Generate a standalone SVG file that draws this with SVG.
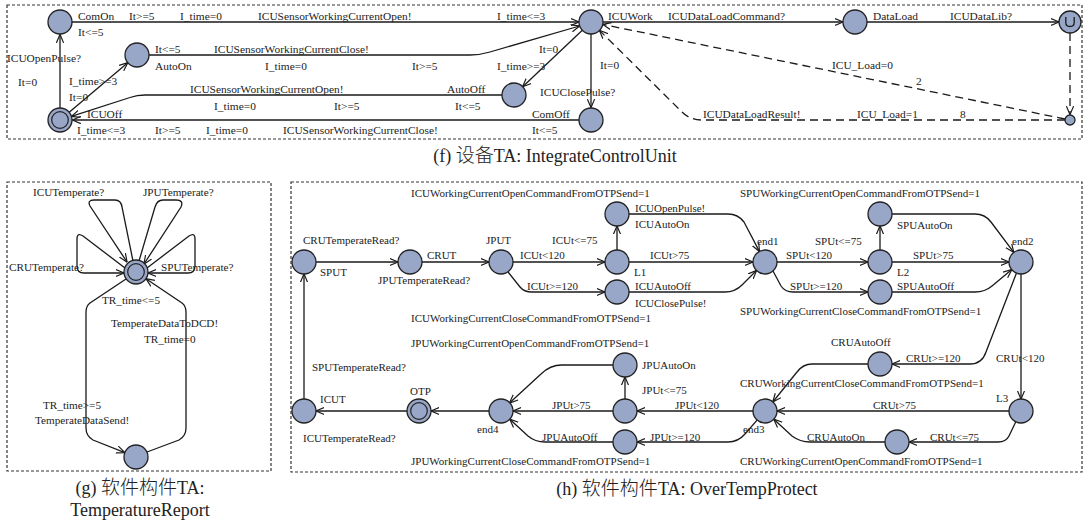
<svg xmlns="http://www.w3.org/2000/svg" width="1084" height="524" viewBox="0 0 1084 524">
  <defs>
    <style>
      .frame { fill: none; stroke: #333; stroke-width: 1.2; stroke-dasharray: 3 2; }
      .loc { fill: #98a6c8; stroke: #222; stroke-width: 1.3; }
      .inner { fill: none; stroke: #222; stroke-width: 1.2; }
      .e { fill: none; stroke: #1a1a1a; stroke-width: 1.3; marker-end: url(#arr); }
      .en { fill: none; stroke: #1a1a1a; stroke-width: 1.3; }
      .dash { stroke-dasharray: 8 5; }
      .sel { stroke: #666; stroke-width: 1.9; }
      text { font-family: "Liberation Serif", "Times New Roman", serif; fill: #222; }
      .lf { font-size: 11.4px; }
      .lh { font-size: 11px; }
      .lg { font-size: 11.2px; }
      .cap { font-size: 18px; text-anchor: middle; }
      .cjk { font-family: "Noto Sans CJK SC", sans-serif; font-size: 19px; font-weight: 300; }
    </style>
    <marker id="arr" markerUnits="userSpaceOnUse" viewBox="0 0 10 10" refX="9.3" refY="5" markerWidth="9" markerHeight="9" orient="auto">
      <path d="M0,1 L9.5,5 L0,9" fill="none" stroke="#1a1a1a" stroke-width="1.3" stroke-dasharray="none"/>
    </marker>
  </defs>

  <!-- panel frames -->
  <rect class="frame" x="7" y="5" width="1075" height="134"/>
  <rect class="frame" x="7" y="182" width="264" height="289"/>
  <rect class="frame" x="291" y="182" width="791" height="290"/>

  <!-- ===================== IntegrateControlUnit ===================== -->
  <g id="icu-edges">
    <path class="e" d="M72,22 L579,22"/>
    <path class="e" d="M60,108 L60,34.5"/>
    <path class="e" d="M69.2,112.3 L127.8,62.7"/>
    <path class="e" d="M149,55 L470,55 Q480,55 490,52 L579.5,26"/>
    <path class="e" d="M582.3,30.3 L522.7,86.7"/>
    <path class="e" d="M502,95 L145,95 Q137,95 130,97.5 L71.4,116.4"/>
    <path class="e" d="M579,120 L72.5,120"/>
    <path class="e sel" d="M591,34 L591,107.5"/>
    <path class="e" d="M603,22 L843,22"/>
    <path class="e" d="M867,22 L1059,22"/>
    <path class="e dash" d="M1070,33 L1070,114.5"/>
    <path class="e dash" d="M1065,119 L602.8,24.4"/>
    <path class="e dash" d="M1065,120 L702,120 Q690,120 682,112 L599.5,30.4"/>
  </g>
  <g id="icu-ComOn"><circle class="loc" cx="60" cy="22" r="12"/></g>
  <g id="icu-AutoOn"><circle class="loc" cx="137" cy="55" r="12"/></g>
  <g id="icu-ICUOff"><circle class="loc" cx="60" cy="120" r="12"/><circle class="inner" cx="60" cy="120" r="8.3"/></g>
  <g id="icu-ICUWork"><circle class="loc" cx="591" cy="22" r="12"/></g>
  <g id="icu-AutoOff"><circle class="loc" cx="514" cy="95" r="12"/></g>
  <g id="icu-ComOff"><circle class="loc" cx="591" cy="120" r="12"/></g>
  <g id="icu-DataLoad"><circle class="loc" cx="855" cy="22" r="12"/></g>
  <g id="icu-urgent"><circle class="loc" cx="1070" cy="22" r="11"/><path class="en" d="M1065.8,17 L1065.8,22.5 Q1065.8,26.5 1070,26.5 Q1074.2,26.5 1074.2,22.5 L1074.2,17" stroke-width="1.2"/></g>
  <g id="icu-branch"><circle class="loc" cx="1070" cy="120" r="5"/></g>
  <g id="icu-labels" class="lf">
    <text x="78" y="20">ComOn</text>
    <text x="129" y="20">It&gt;=5</text>
    <text x="180" y="20">I_time=0</text>
    <text x="258" y="20">ICUSensorWorkingCurrentOpen!</text>
    <text x="497" y="20">I_time&lt;=3</text>
    <text x="78" y="36">It&lt;=5</text>
    <text x="7" y="62">ICUOpenPulse?</text>
    <text x="18" y="86">It=0</text>
    <text x="69" y="85">I_time&gt;=3</text>
    <text x="69" y="101">It=0</text>
    <text x="155" y="53">It&lt;=5</text>
    <text x="155" y="70">AutoOn</text>
    <text x="214" y="53">ICUSensorWorkingCurrentClose!</text>
    <text x="265" y="70">I_time=0</text>
    <text x="412" y="70">It&gt;=5</text>
    <text x="539" y="53">It=0</text>
    <text x="497" y="70">I_time&gt;=3</text>
    <text x="190" y="93">ICUSensorWorkingCurrentOpen!</text>
    <text x="214" y="110">I_time=0</text>
    <text x="334" y="110">It&gt;=5</text>
    <text x="447" y="93">AutoOff</text>
    <text x="455" y="110">It&lt;=5</text>
    <text x="540" y="96">ICUClosePulse?</text>
    <text x="600" y="69">It=0</text>
    <text x="87" y="118">ICUOff</text>
    <text x="532" y="118">ComOff</text>
    <text x="77" y="134">I_time&lt;=3</text>
    <text x="155" y="134">It&gt;=5</text>
    <text x="206" y="134">I_time=0</text>
    <text x="283" y="134">ICUSensorWorkingCurrentClose!</text>
    <text x="532" y="134">It&lt;=5</text>
    <text x="608" y="20">ICUWork</text>
    <text x="668" y="20">ICUDataLoadCommand?</text>
    <text x="873" y="20">DataLoad</text>
    <text x="950" y="20">ICUDataLib?</text>
    <text x="832" y="69">ICU_Load=0</text>
    <text x="916" y="85">2</text>
    <text x="703" y="118">ICUDataLoadResult!</text>
    <text x="857" y="118">ICU_Load=1</text>
    <text x="960" y="118">8</text>
  </g>
  <text class="cap" x="555" y="162">(f) <tspan class="cjk">设备</tspan>TA: IntegrateControlUnit</text>

  <!-- ===================== TemperatureReport ===================== -->
  <g id="tr-edges">
    <path class="e" d="M133,261 L122,207 Q121,200 115,200 L94,200 Q87,200 90,206 L127,262"/>
    <path class="e" d="M139,261 L155,207 Q157,200 163,200 L176,200 Q184,200 181,207 L144,264"/>
    <path class="e" d="M125,268 L83,236 Q77,232 77,239 L77,266 Q77,273 84,273 L124,273"/>
    <path class="e" d="M147,268 L189,236 Q195,232 195,239 L195,266 Q195,273 188,273 L148,273"/>
    <path class="e" d="M126,279 L90,303 Q86,306 86,312 L86,428 Q86,436 93,440 L124.8,452.6"/>
    <path class="e" d="M147,452 L179,440 Q186,436 186,428 L186,312 Q186,306 182,303 L146,278.7"/>
  </g>
  <g id="tr-idle"><circle class="loc" cx="136" cy="272" r="12"/><circle class="inner" cx="136" cy="272" r="8.3"/></g>
  <g id="tr-send"><circle class="loc" cx="136" cy="457" r="12"/></g>
  <g id="tr-labels" class="lg">
    <text x="33" y="196">ICUTemperate?</text>
    <text x="143" y="196">JPUTemperate?</text>
    <text x="9" y="271">CRUTemperate?</text>
    <text x="161" y="271">SPUTemperate?</text>
    <text x="102" y="304">TR_time&lt;=5</text>
    <text x="111" y="327">TemperateDataToDCD!</text>
    <text x="144" y="343">TR_time=0</text>
    <text x="43" y="409">TR_time&gt;=5</text>
    <text x="35" y="424">TemperateDataSend!</text>
  </g>
  <text class="cap" x="140" y="494">(g) <tspan class="cjk">软件构件</tspan>TA:</text>
  <text class="cap" x="140" y="516">TemperatureReport</text>

  <!-- ===================== OverTempProtect ===================== -->
  <g id="otp-edges">
    <path class="e" d="M316,262 L398,262"/>
    <path class="e" d="M422,262 L489,262"/>
    <path class="e" d="M513,262 L605,262"/>
    <path class="e" d="M508,272 L520,287 Q524,292 532,292 L605,292"/>
    <path class="e" d="M617,250 L617,226"/>
    <path class="e" d="M629,214 L728,214 Q738,214 744,222 L759.4,251.4"/>
    <path class="e" d="M629,262 L753,262"/>
    <path class="e" d="M629,292 L725,292 Q735,292 742,285 L756.5,270.5"/>
    <path class="e" d="M777,262 L868,262"/>
    <path class="e" d="M773,271 L781,286 Q785,292 793,292 L868,292"/>
    <path class="e" d="M880,250 L880,226"/>
    <path class="e" d="M892,214 L975,214 Q985,214 991,222 L1013.8,252.4"/>
    <path class="e" d="M892,262 L1009,262"/>
    <path class="e" d="M892,292 L975,292 Q985,292 992,286 L1011.8,269.6"/>
    <path class="e" d="M1021,274 L1021,399"/>
    <path class="e" d="M1016.5,273 L986,352 Q982,364 970,364 L892,364"/>
    <path class="e" d="M868,364 L812,364 Q803,364 797,372 L772.8,402"/>
    <path class="e" d="M1009,411 L777,411"/>
    <path class="e" d="M1015.8,421.8 L1009,436 Q1006,442 998,442 L909,442"/>
    <path class="e" d="M885,442 L810,442 Q800,442 792,436 L773.8,419.2"/>
    <path class="e" d="M753,411 L637,411"/>
    <path class="e" d="M625,399 L625,377"/>
    <path class="e" d="M613,365 L562,365 Q550,365 541,374 L509.5,403"/>
    <path class="e" d="M613,411 L513,411"/>
    <path class="e" d="M757.1,420.1 L745,434 Q738,442 728,442 L637,442"/>
    <path class="e" d="M613,442 L545,442 Q535,442 528,436 L509.8,419.2"/>
    <path class="e" d="M489,411 L431,411"/>
    <path class="e" d="M407,411 L316,411"/>
    <path class="e" d="M304,399 L304,274"/>
  </g>
  <g id="otp-SPUT"><circle class="loc" cx="304" cy="262" r="12"/></g>
  <g id="otp-CRUT"><circle class="loc" cx="410" cy="262" r="12"/></g>
  <g id="otp-JPUT"><circle class="loc" cx="501" cy="262" r="12"/></g>
  <g id="otp-ICUAutoOn"><circle class="loc" cx="617" cy="214" r="12"/></g>
  <g id="otp-L1"><circle class="loc" cx="617" cy="262" r="12"/></g>
  <g id="otp-ICUAutoOff"><circle class="loc" cx="617" cy="292" r="12"/></g>
  <g id="otp-end1"><circle class="loc" cx="765" cy="262" r="12"/></g>
  <g id="otp-SPUAutoOn"><circle class="loc" cx="880" cy="214" r="12"/></g>
  <g id="otp-L2"><circle class="loc" cx="880" cy="262" r="12"/></g>
  <g id="otp-SPUAutoOff"><circle class="loc" cx="880" cy="292" r="12"/></g>
  <g id="otp-end2"><circle class="loc" cx="1021" cy="262" r="12"/></g>
  <g id="otp-CRUAutoOff"><circle class="loc" cx="880" cy="364" r="12"/></g>
  <g id="otp-L3"><circle class="loc" cx="1021" cy="411" r="12"/></g>
  <g id="otp-CRUAutoOn"><circle class="loc" cx="897" cy="442" r="12"/></g>
  <g id="otp-end3"><circle class="loc" cx="765" cy="411" r="12"/></g>
  <g id="otp-JPUAutoOn"><circle class="loc" cx="625" cy="365" r="12"/></g>
  <g id="otp-L4"><circle class="loc" cx="625" cy="411" r="12"/></g>
  <g id="otp-JPUAutoOff"><circle class="loc" cx="625" cy="442" r="12"/></g>
  <g id="otp-end4"><circle class="loc" cx="501" cy="411" r="12"/></g>
  <g id="otp-OTP"><circle class="loc" cx="419" cy="411" r="12"/><circle class="inner" cx="419" cy="411" r="8.3"/></g>
  <g id="otp-ICUT"><circle class="loc" cx="304" cy="411" r="12"/></g>
  <g id="otp-labels" class="lh">
    <text x="411" y="197">ICUWorkingCurrentOpenCommandFromOTPSend=1</text>
    <text x="303" y="244">CRUTemperateRead?</text>
    <text x="320" y="276">SPUT</text>
    <text x="427" y="259">CRUT</text>
    <text x="378" y="284">JPUTemperateRead?</text>
    <text x="486" y="244">JPUT</text>
    <text x="520" y="259">ICUt&lt;120</text>
    <text x="552" y="244">ICUt&lt;=75</text>
    <text x="527" y="290">ICUt&gt;=120</text>
    <text x="635" y="212">ICUOpenPulse!</text>
    <text x="635" y="228">ICUAutoOn</text>
    <text x="650" y="259">ICUt&gt;75</text>
    <text x="634" y="276">L1</text>
    <text x="635" y="290">ICUAutoOff</text>
    <text x="635" y="307">ICUClosePulse!</text>
    <text x="411" y="322">ICUWorkingCurrentCloseCommandFromOTPSend=1</text>
    <text x="411" y="347">JPUWorkingCurrentOpenCommandFromOTPSend=1</text>
    <text x="757" y="245">end1</text>
    <text x="740" y="197">SPUWorkingCurrentOpenCommandFromOTPSend=1</text>
    <text x="815" y="245">SPUt&lt;=75</text>
    <text x="786" y="259">SPUt&lt;120</text>
    <text x="790" y="290">SPUt&gt;=120</text>
    <text x="897" y="229">SPUAutoOn</text>
    <text x="913" y="259">SPUt&gt;75</text>
    <text x="897" y="276">L2</text>
    <text x="897" y="290">SPUAutoOff</text>
    <text x="740" y="315">SPUWorkingCurrentCloseCommandFromOTPSend=1</text>
    <text x="1012" y="245">end2</text>
    <text x="831" y="346">CRUAutoOff</text>
    <text x="906" y="362">CRUt&gt;=120</text>
    <text x="996" y="362">CRUt&lt;120</text>
    <text x="740" y="387">CRUWorkingCurrentCloseCommandFromOTPSend=1</text>
    <text x="996" y="402">L3</text>
    <text x="873" y="409">CRUt&gt;75</text>
    <text x="930" y="441">CRUt&lt;=75</text>
    <text x="807" y="441">CRUAutoOn</text>
    <text x="740" y="465">CRUWorkingCurrentOpenCommandFromOTPSend=1</text>
    <text x="642" y="369">JPUAutoOn</text>
    <text x="642" y="394">JPUt&lt;=75</text>
    <text x="675" y="409">JPUt&lt;120</text>
    <text x="552" y="409">JPUt&gt;75</text>
    <text x="650" y="441">JPUt&gt;=120</text>
    <text x="542" y="441">JPUAutoOff</text>
    <text x="743" y="433">end3</text>
    <text x="477" y="433">end4</text>
    <text x="411" y="465">JPUWorkingCurrentCloseCommandFromOTPSend=1</text>
    <text x="410" y="395">OTP</text>
    <text x="320" y="403">ICUT</text>
    <text x="312" y="371">SPUTemperateRead?</text>
    <text x="303" y="442">ICUTemperateRead?</text>
  </g>
  <text class="cap" x="687" y="495">(h) <tspan class="cjk">软件构件</tspan>TA: OverTempProtect</text>
</svg>
